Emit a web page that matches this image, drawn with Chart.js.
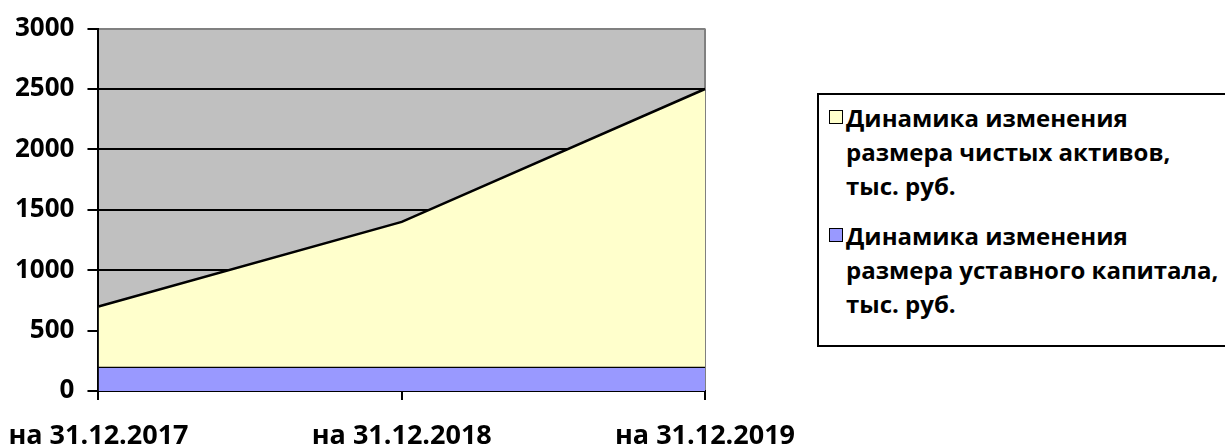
<!DOCTYPE html>
<html>
<head>
<meta charset="utf-8">
<script src="https://cdn.jsdelivr.net/npm/chart.js@4"></script>
<style>
html, body { margin: 0; padding: 0; background: #fff; }
#wrap { position: relative; width: 1225px; height: 447px; overflow: hidden; }
#plot { position: absolute; left: 0; top: 0; width: 820px; height: 447px; }
#legend {
    position: absolute; left: 817px; top: 93px; width: 420px; height: 250px;
    border: 2px solid #000; background: #fff;
    font-family: "Open Sans", "Noto Sans", sans-serif; font-weight: bold; font-size: 24px;
    line-height: 34px; color: #000; box-sizing: content-box;
}
#legend .item { position: relative; padding-left: 27px; white-space: nowrap; }
#legend .item + .item { margin-top: 16px; }
#legend .swatch { position: absolute; left: 10px; top: 9px; width: 12px; height: 12px; border: 1.5px solid #000; }
</style>
</head>
<body>
<div id="wrap">
    <div id="plot"><canvas id="area-chart"></canvas></div>
    <div id="legend"></div>
</div>
<script>
const dates = ["на 31.12.2017", "на 31.12.2018", "на 31.12.2019"];
const netAssets = [700, 1400, 2500];
const charterCapital = [200, 200, 200];
const netAssetsLabel = ["Динамика изменения", "размера чистых активов,", "тыс. руб."];
const capitalLabel = ["Динамика изменения", "размера уставного капитала,", "тыс. руб."];
const yMin = 0, yMax = 3000, yStep = 500;

const FONT = '"Open Sans", "Noto Sans", sans-serif';

// grey plot area like in Excel
const plotBackground = {
    id: 'plotBackground',
    beforeDraw(chart) {
        const {ctx, chartArea: a} = chart;
        ctx.save();
        ctx.fillStyle = '#C0C0C0';
        ctx.fillRect(a.left, a.top, a.right - a.left, a.bottom - a.top);
        ctx.restore();
    }
};

const chart = new Chart(document.getElementById("area-chart"), {
    type: 'line',
    data: {
        labels: dates,
        datasets: [{
            label: netAssetsLabel,
            data: netAssets,
            backgroundColor: '#FFFFCC',
            borderColor: '#000',
            borderWidth: 2.5,
            fill: '+1',
            pointRadius: 0,
            tension: 0
        }, {
            label: capitalLabel,
            data: charterCapital,
            backgroundColor: '#9999FF',
            borderColor: '#000',
            borderWidth: 2.5,
            fill: 'origin',
            pointRadius: 0,
            tension: 0
        }]
    },
    options: {
        responsive: true,
        maintainAspectRatio: false,
        animation: false,
        layout: {
            padding: { top: 28, left: 2, right: 115, bottom: 0 }
        },
        scales: {
            x: {
                offset: false,
                afterFit: (scale) => { scale.height = 56; },
                grid: {
                    drawOnChartArea: true,
                    color: (c) => c.index === dates.length - 1 ? '#808080' : 'rgba(0,0,0,0)',
                    tickColor: '#000',
                    lineWidth: 2,
                    tickLength: 9
                },
                border: { color: '#000', width: 2 },
                ticks: {
                    color: '#000',
                    padding: 3,
                    maxRotation: 0,
                    // tall line box pushes the labels down without widening the side padding
                    font: { family: FONT, size: 27, weight: 'bold', lineHeight: 2.5 }
                }
            },
            y: {
                min: yMin,
                max: yMax,
                grid: {
                    color: (c) => c.tick && c.tick.value === yMax ? '#808080' : '#000',
                    tickColor: '#000',
                    lineWidth: 2,
                    tickLength: 11
                },
                border: { color: '#000', width: 2 },
                ticks: {
                    stepSize: yStep,
                    color: '#000',
                    padding: 13,
                    callback: (v) => String(v),
                    font: { family: FONT, size: 26, weight: 'bold' }
                }
            }
        },
        plugins: {
            tooltip: { enabled: false },
            legend: { display: false }
        }
    },
    plugins: [plotBackground]
});

// legend built from the datasets, Excel style
const legendEl = document.getElementById('legend');
chart.data.datasets.forEach((ds, i) => {
    const item = document.createElement('div');
    item.className = 'item';
    if (i === 0) item.style.marginTop = '6px';
    const sw = document.createElement('span');
    sw.className = 'swatch';
    sw.style.background = ds.backgroundColor;
    item.appendChild(sw);
    ds.label.forEach((line) => {
        const l = document.createElement('div');
        l.textContent = line;
        item.appendChild(l);
    });
    legendEl.appendChild(item);
});
</script>
</body>
</html>
